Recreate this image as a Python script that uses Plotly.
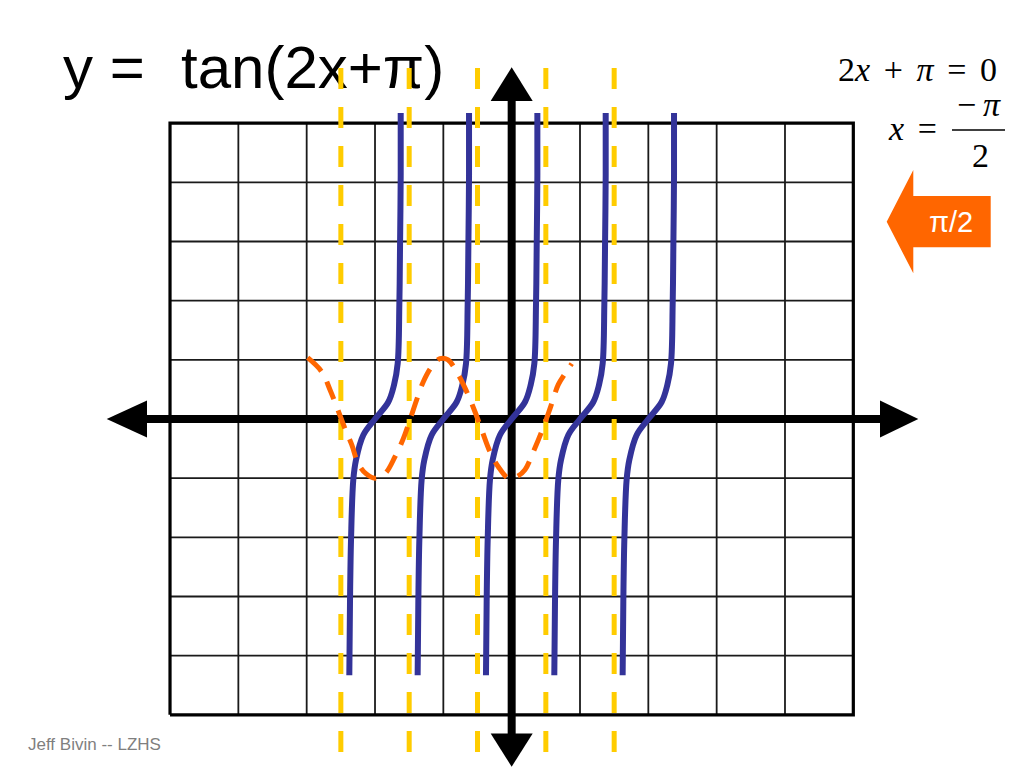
import plotly.graph_objects as go

# ---------------- data (grid units: 1 unit = pi/2 horizontally) ----------------
grid_x = [-5, -4, -3, -2, -1, 0, 1, 2, 3, 4, 5]
grid_y = [-5, -4, -3, -2, -1, 0, 1, 2, 3, 4, 5]

asymptote_x = [-2.5, -1.5, -0.5, 0.5, 1.5]

branch_centers = [-2, -1, 0, 1, 2]
branch_dx = [-0.376, -0.366, -0.351, -0.318, -0.278, -0.171, 0.0,
             0.195, 0.278, 0.332, 0.356, 0.366, 0.376, 0.376]
branch_y = [-4.33, -3.09, -2.04, -1.03, -0.69, -0.27, 0.0,
            0.287, 0.575, 0.94, 1.93, 2.89, 4.12, 5.17]

orange_x = [-2.985, -2.780, -2.659, -2.561, -2.439, -2.341, -2.245, -2.132, -2.000,
            -1.854, -1.707, -1.586, -1.488, -1.390, -1.293, -1.170, -1.049, -0.936,
            -0.781, -0.658, -0.537, -0.439, -0.318, -0.196, -0.049, 0.074, 0.195,
            0.317, 0.439, 0.561, 0.682, 0.780, 0.879]
orange_y = [1.036, 0.799, 0.495, 0.208, -0.164, -0.434, -0.755, -0.924, -1.000,
            -0.924, -0.637, -0.332, -0.012, 0.326, 0.630, 0.884, 1.019, 1.002,
            0.749, 0.461, 0.123, -0.181, -0.552, -0.806, -1.000, -0.975, -0.857,
            -0.552, -0.214, 0.174, 0.580, 0.766, 0.935]

title_left = "y ="
title_right = "tan(2x+π)"
footer = "Jeff Bivin -- LZHS"
shift_label = "π/2"

# ---------------- page geometry ----------------
W, H = 1024, 768
X0, SX = 511.67, 68.33   # pixel of x=0, pixels per unit
Y0, SY = 419.0, 59.17    # pixel of y=0, pixels per unit


def u(px):
    return (px - X0) / SX


def v(py):
    return (Y0 - py) / SY


BLACK = "#000000"
BLUE = "#333399"
GOLD = "#FFCC00"
ORANGE = "#FF6600"

fig = go.Figure()

# inner grid lines
gx, gy = [], []
for x in grid_x[1:-1]:
    if x == 0:
        continue
    gx += [x, x, None]
    gy += [grid_y[0], grid_y[-1], None]
for y in grid_y[1:-1]:
    if y == 0:
        continue
    gx += [grid_x[0], grid_x[-1], None]
    gy += [y, y, None]
fig.add_trace(go.Scatter(x=gx, y=gy, mode="lines",
                         line=dict(color="#1a1a1a", width=1.8), hoverinfo="skip"))
# outer box
fig.add_trace(go.Scatter(
    x=[grid_x[0], grid_x[-1], grid_x[-1], grid_x[0], grid_x[0]],
    y=[grid_y[0], grid_y[0], grid_y[-1], grid_y[-1], grid_y[0]],
    mode="lines", line=dict(color=BLACK, width=3.2), hoverinfo="skip"))

# axes
fig.add_trace(go.Scatter(x=[u(146), u(881), None, 0, 0],
                         y=[0, 0, None, v(100), v(735)],
                         mode="lines", line=dict(color=BLACK, width=8), hoverinfo="skip"))
# arrow heads
ah = 18.5 / SY
aw = 21.0 / SX
heads = [
    ([u(106.7), u(147), u(147)], [0, ah, -ah]),
    ([u(918.3), u(880), u(880)], [0, ah, -ah]),
    ([0, -aw, aw], [v(67.3), v(101), v(101)]),
    ([0, -aw, aw], [v(766.7), v(733.5), v(733.5)]),
]
for hx, hy in heads:
    fig.add_trace(go.Scatter(x=hx + [hx[0]], y=hy + [hy[0]], mode="lines",
                             fill="toself", fillcolor=BLACK,
                             line=dict(color=BLACK, width=0), hoverinfo="skip"))

# title as text traces (drawn under the asymptotes like the original)
fig.add_trace(go.Scatter(x=[u(63), u(181)], y=[v(73), v(73)], mode="text",
                         text=[title_left, title_right], textposition="middle right",
                         textfont=dict(family="Liberation Sans, Arial, sans-serif",
                                       size=60, color=BLACK),
                         hoverinfo="skip"))

# asymptotes
ax_, ay_ = [], []
for a in asymptote_x:
    ax_ += [a, a, None]
    ay_ += [v(68), v(762), None]
fig.add_trace(go.Scatter(x=ax_, y=ay_, mode="lines",
                         line=dict(color=GOLD, width=5, dash="21px,18px"),
                         hoverinfo="skip"))

# tangent branches
for c in branch_centers:
    fig.add_trace(go.Scatter(x=[c + d for d in branch_dx], y=branch_y, mode="lines",
                             line=dict(color=BLUE, width=6, shape="spline"),
                             hoverinfo="skip"))

# orange dashed sketch
fig.add_trace(go.Scatter(x=orange_x, y=orange_y, mode="lines",
                         line=dict(color=ORANGE, width=5, dash="19px,12px", shape="spline"),
                         hoverinfo="skip"))

serif = "Liberation Serif, Times New Roman, serif"
th = "\u2009"
annotations = [
    dict(x=u(999), y=v(69), xanchor="right", yanchor="middle",
         text="2<i>x</i>" + th * 2 + "+" + th * 2 + "<i>π</i>" + th * 2 + "=" + th * 2 + "0",
         font=dict(family=serif, size=34, color=BLACK)),
    dict(x=u(939), y=v(128), xanchor="right", yanchor="middle",
         text="<i>x</i>" + th * 2 + "=",
         font=dict(family=serif, size=34, color=BLACK)),
    dict(x=u(1003), y=v(104), xanchor="right", yanchor="middle",
         text="−" + th + "<i>π</i>",
         font=dict(family=serif, size=34, color=BLACK)),
    dict(x=u(980), y=v(155), xanchor="center", yanchor="middle",
         text="2", font=dict(family=serif, size=34, color=BLACK)),
    dict(x=u(951), y=v(222), xanchor="center", yanchor="middle",
         text=shift_label,
         font=dict(family="Liberation Sans, Arial, sans-serif", size=29, color="#FFFFFF")),
    dict(x=u(26), y=v(744), xanchor="left", yanchor="middle",
         text=footer,
         font=dict(family="Liberation Sans, Arial, sans-serif", size=17, color="#7f7f7f")),
]
for a in annotations:
    a.update(xref="x", yref="y", showarrow=False)

arrow_pts = [(886.7, 221.7), (913.3, 170), (913.3, 196), (990.7, 196),
             (990.7, 247.3), (913.3, 247.3), (913.3, 273.3)]
path = "M " + " L ".join(f"{u(px):.4f},{v(py):.4f}" for px, py in arrow_pts) + " Z"
shapes = [
    dict(type="path", path=path, xref="x", yref="y", fillcolor=ORANGE,
         line=dict(width=0), layer="below"),
    dict(type="line", xref="x", yref="y", x0=u(952), x1=u(1005), y0=v(130), y1=v(130),
         line=dict(color=BLACK, width=1.6)),
]

fig.update_layout(
    width=W, height=H, autosize=False,
    margin=dict(l=0, r=0, t=0, b=0, pad=0),
    paper_bgcolor="white", plot_bgcolor="white",
    showlegend=False,
    xaxis=dict(range=[u(0), u(W)], visible=False, fixedrange=True),
    yaxis=dict(range=[v(H), v(0)], visible=False, fixedrange=True),
    annotations=annotations, shapes=shapes,
)

fig.write_html("out.html", config={"displayModeBar": False},
               post_script="document.body.style.margin='0';document.body.style.overflow='hidden';")
